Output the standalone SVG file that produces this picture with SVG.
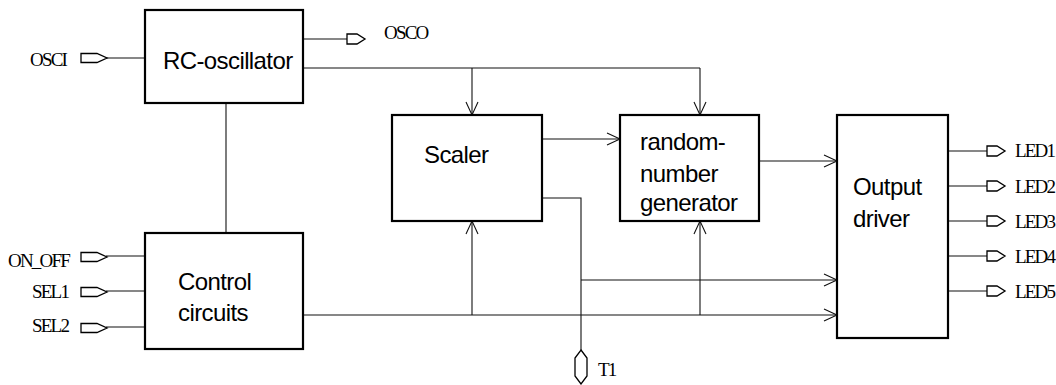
<svg xmlns="http://www.w3.org/2000/svg" width="1056" height="385" viewBox="0 0 1056 385">
<style>
.box{fill:#fff;stroke:#000;stroke-width:2.2}
.w{fill:none;stroke:#111;stroke-width:1.1}
.port{fill:#fff;stroke:#000;stroke-width:1.3}
.t{font-family:"Liberation Sans",Arial,sans-serif;font-size:24px;letter-spacing:-0.6px;fill:#000}
.l{font-family:"Liberation Serif","Times New Roman",serif;font-size:19px;letter-spacing:-1.8px;fill:#000}
</style>
<defs>
<marker id="arr" markerUnits="userSpaceOnUse" markerWidth="16" markerHeight="16" viewBox="-14 -8 16 16" refX="0" refY="0" orient="auto">
<path d="M-13,-6 L0,0 L-13,6" fill="none" stroke="#111" stroke-width="1.1"/>
</marker>
<path id="pin" d="M0,-4.5 L16,-4.5 L26,0 L16,4.5 L0,4.5 Z"/>
<path id="pins" d="M0,-5 L10,-5 L18,0 L10,5 L0,5 Z"/>
</defs>
<rect width="1056" height="385" fill="#fff"/>

<g id="connectors">
<path class="w" d="M106,58 H145"/>
<path class="w" d="M303,39 H347"/>
<path class="w" d="M303,68 H700"/>
<path class="w" d="M472,68 V115" marker-end="url(#arr)"/>
<path class="w" d="M700,68 V115" marker-end="url(#arr)"/>
<path class="w" d="M226,103 V233"/>
<path class="w" d="M106,256 H145"/>
<path class="w" d="M106,291 H145"/>
<path class="w" d="M106,327 H145"/>
<path class="w" d="M542,139 H620" marker-end="url(#arr)"/>
<path class="w" d="M759,161 H837" marker-end="url(#arr)"/>
<path class="w" d="M542,198 H581 V350"/>
<path class="w" d="M581,280 H837" marker-end="url(#arr)"/>
<path class="w" d="M303,315 H837" marker-end="url(#arr)"/>
<path class="w" d="M472,315 V221" marker-end="url(#arr)"/>
<path class="w" d="M700,315 V221" marker-end="url(#arr)"/>
<path class="w" d="M948,151 H987"/>
<path class="w" d="M948,186 H987"/>
<path class="w" d="M948,221 H987"/>
<path class="w" d="M948,256 H987"/>
<path class="w" d="M948,291 H987"/>
</g>

<g id="rc-oscillator">
<rect class="box" x="145" y="10" width="158" height="93"/>
<text class="t" x="163" y="69">RC-oscillator</text>
</g>

<g id="control-circuits">
<rect class="box" x="145" y="233" width="158" height="116"/>
<text class="t" x="178" y="290">Control</text>
<text class="t" x="178" y="321">circuits</text>
</g>

<g id="scaler">
<rect class="box" x="392" y="115" width="150" height="106"/>
<text class="t" x="424" y="163">Scaler</text>
</g>

<g id="random-number-generator">
<rect class="box" x="620" y="115" width="139" height="106"/>
<text class="t" x="640" y="150">random-</text>
<text class="t" x="640" y="182">number</text>
<text class="t" x="640" y="211">generator</text>
</g>

<g id="output-driver">
<rect class="box" x="837" y="115" width="111" height="223"/>
<text class="t" x="853" y="195">Output</text>
<text class="t" x="853" y="227">driver</text>
</g>

<g id="port-osci">
<use href="#pin" class="port" x="81" y="58"/>
<text class="l" x="30" y="66">OSCI</text>
</g>
<g id="port-osco">
<use href="#pins" class="port" x="347" y="39"/>
<text class="l" x="384" y="39">OSCO</text>
</g>
<g id="port-on-off">
<use href="#pin" class="port" x="81" y="257"/>
<text class="l" x="8" y="267">ON_OFF</text>
</g>
<g id="port-sel1">
<use href="#pin" class="port" x="81" y="292"/>
<text class="l" x="32" y="298">SEL1</text>
</g>
<g id="port-sel2">
<use href="#pin" class="port" x="81" y="328"/>
<text class="l" x="32" y="332">SEL2</text>
</g>
<g id="port-t1">
<path class="port" d="M581,350 L587,358 L587,376 L581,384 L575,376 L575,358 Z"/>
<text class="l" x="598" y="376">T1</text>
</g>
<g id="port-led1">
<use href="#pins" class="port" x="987" y="151"/>
<text class="l" x="1015" y="157">LED1</text>
</g>
<g id="port-led2">
<use href="#pins" class="port" x="987" y="186"/>
<text class="l" x="1015" y="193">LED2</text>
</g>
<g id="port-led3">
<use href="#pins" class="port" x="987" y="221"/>
<text class="l" x="1015" y="228">LED3</text>
</g>
<g id="port-led4">
<use href="#pins" class="port" x="987" y="256"/>
<text class="l" x="1015" y="263">LED4</text>
</g>
<g id="port-led5">
<use href="#pins" class="port" x="987" y="291"/>
<text class="l" x="1015" y="298">LED5</text>
</g>
</svg>
